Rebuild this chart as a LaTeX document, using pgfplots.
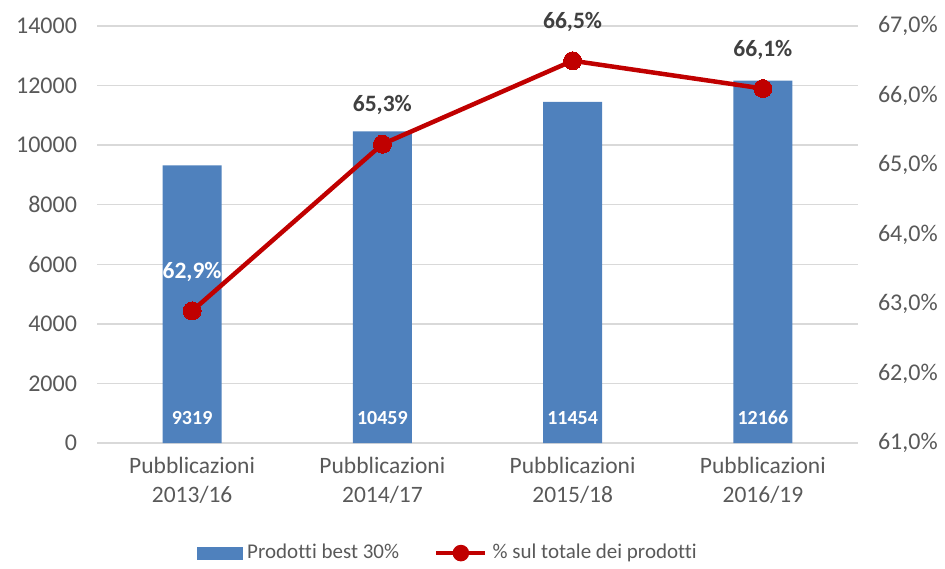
\documentclass[border=0pt]{standalone}
\usepackage{pgfplots}
\pgfplotsset{compat=1.18}
\usepackage{fontspec}
\setmainfont[Ligatures={NoCommon}]{Carlito}
\definecolor{barblue}{HTML}{4F81BD}
\definecolor{linered}{HTML}{C00000}
\definecolor{txtgray}{HTML}{595959}
\definecolor{lblgray}{HTML}{404040}
\definecolor{gridgray}{HTML}{D9D9D9}
\begin{document}
\fontsize{23.5}{28}\selectfont
\begin{tikzpicture}[x=1pt,y=1pt]
\useasboundingbox (0,0) rectangle (945,568);
\begin{axis}[
  at={(97pt,125pt)}, anchor=south west,
  width=761pt, height=417pt, scale only axis,
  xmin=-0.5, xmax=3.5, ymin=0, ymax=14000,
  xtick={0,1,2,3},
  xticklabels={{Pubblicazioni\\2013/16},{Pubblicazioni\\2014/17},{Pubblicazioni\\2015/18},{Pubblicazioni\\2016/19}},
  xticklabel style={align=center, text=txtgray, font=\fontsize{23.5}{29}\selectfont, yshift=-6pt},
  ytick={0,2000,...,14000},
  scaled y ticks=false,
  yticklabel style={text=txtgray, font=\fontsize{24}{28}\selectfont, xshift=-12pt},
  /pgf/number format/assume math mode=true,
  /pgf/number format/1000 sep={},
  ymajorgrids, grid style={gridgray, line width=1.5pt},
  axis line style={draw=none}, major tick style={draw=none},
]
\addplot[ybar, bar width=59pt, fill=barblue, draw=none] coordinates {(0,9319) (1,10459) (2,11454) (3,12166)};
\addplot[draw=none, mark=none, nodes near coords, point meta=explicit symbolic,
  every node near coord/.append style={anchor=center, text=white, font=\fontsize{20}{24}\selectfont\bfseries}]
  coordinates {(0,840) [9319] (1,840) [10459] (2,840) [11454] (3,840) [12166]};
\end{axis}
\begin{axis}[
  at={(97pt,125pt)}, anchor=south west,
  width=761pt, height=417pt, scale only axis,
  xmin=-0.5, xmax=3.5, ymin=61, ymax=67,
  axis x line=none, axis y line*=right,
  ytick={61,62,...,67},
  yticklabel={\pgfmathprintnumber[fixed,fixed zerofill,precision=1,use comma]{\tick}\%},
  yticklabel style={text=txtgray, font=\fontsize{24}{28}\selectfont, xshift=12pt},
  /pgf/number format/assume math mode=true,
  axis line style={draw=none}, major tick style={draw=none},
  legend columns=2,
  legend style={at={(0.461,-0.264)}, anchor=center, draw=none, fill=none,
    font=\fontsize{21}{25}\selectfont, text=txtgray,
    /tikz/every odd column/.append style={column sep=3pt},
    /tikz/every even column/.append style={column sep=33pt},
    legend cell align=left, inner sep=0pt},
]
\addlegendimage{legend image code/.code={\fill[barblue] (0pt,-6pt) rectangle (45pt,6pt);}}
\addlegendentry{Prodotti best 30\%}
\addplot[linered, line width=4.5pt, mark=*, mark size=9pt, mark options={fill=linered, draw=linered, line width=0pt},
  nodes near coords, point meta=explicit symbolic,
  every node near coord/.append style={anchor=center, yshift=39pt, font=\fontsize{23.5}{28}\selectfont\bfseries, text=lblgray},
  legend image code/.code={\draw[linered, line width=4.5pt] (0pt,0pt) -- (49pt,0pt); \fill[linered] (24.5pt,0pt) circle (6pt);}]
  coordinates {(0,62.9) [\textcolor{white}{62,9\%}] (1,65.3) [65,3\%] (2,66.5) [66,5\%] (3,66.1) [66,1\%]};
\addlegendentry{\% sul totale dei prodotti}
\end{axis}
\end{tikzpicture}
\end{document}
